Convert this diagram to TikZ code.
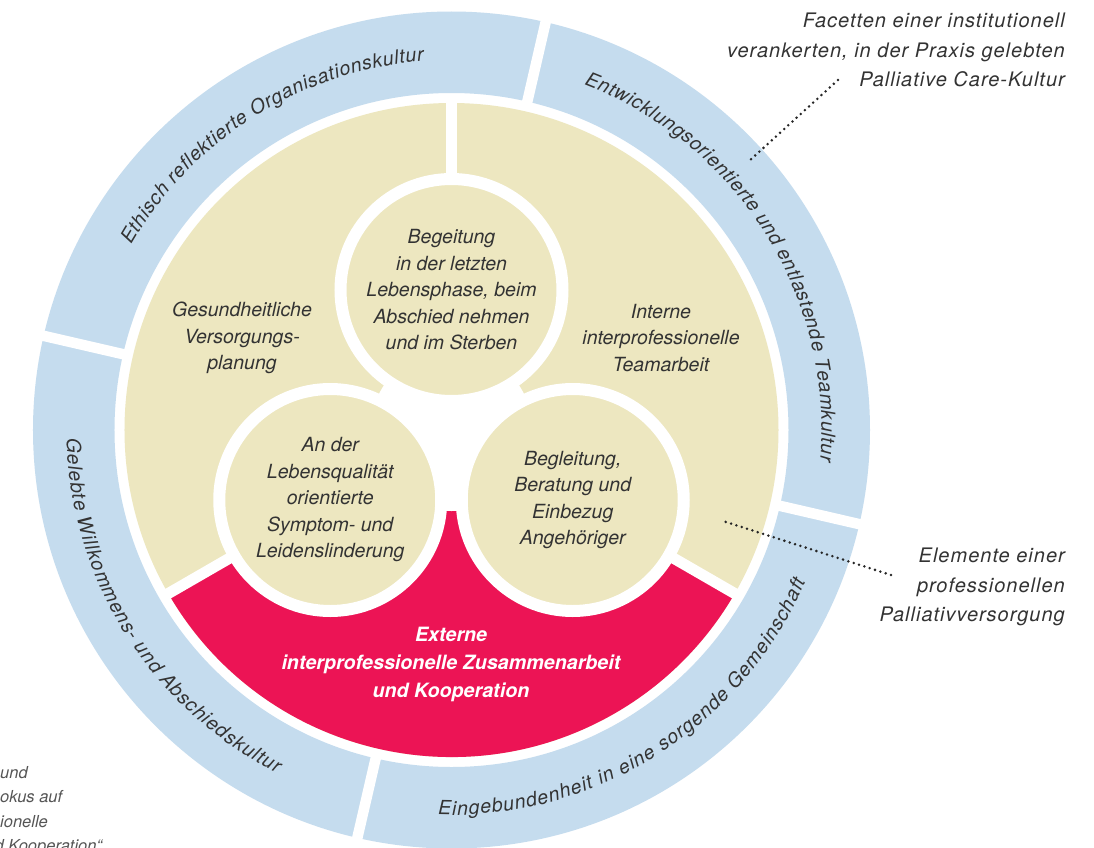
\documentclass[tikz,border=0pt]{standalone}
\usepackage{fontspec}
\setmainfont{TeX Gyre Heros}
\newfontfamily\annfont[LetterSpace=5]{TeX Gyre Heros}
\usetikzlibrary{decorations.text}
\definecolor{ringblue}{HTML}{C5DCEE}
\definecolor{elemyellow}{HTML}{EDE7C0}
\definecolor{extred}{HTML}{EC1455}
\definecolor{txtgray}{HTML}{333333}
\definecolor{fraggray}{HTML}{555555}
\begin{document}
\begin{tikzpicture}[x=1pt,y=1pt,
  innertxt/.style={align=center, inner sep=0pt, font=\fontsize{19.5}{26.5}\selectfont\itshape, text=txtgray},
  smallcircle/.style={circle, minimum size=222pt, inner sep=0pt, fill=elemyellow, draw=white, line width=12pt,
     align=center, font=\fontsize{19.5}{26.5}\selectfont\itshape, text=txtgray},
  redtxt/.style={align=center, inner sep=0pt, font=\fontsize{19.7}{28}\selectfont\bfseries\itshape, text=white},
  anntxt/.style={align=right, inner sep=0pt, font=\annfont\fontsize{20}{29.5}\selectfont\itshape, text=txtgray},
  fragtxt/.style={inner sep=0pt, font=\fontsize{16.5}{24.5}\selectfont\itshape, text=fraggray},
  leader/.style={draw=black!85, line width=2.8pt, line cap=round, dash pattern=on 0pt off 5.6pt},
  gapline/.style={draw=white, line width=10.5pt},
  ringtext/.style={decorate, decoration={text along path, text align=fit to path, text color=txtgray,
     text={|\fontsize{19.5}{23}\selectfont\itshape|#1}}}
]
\useasboundingbox (-451.5,-417) rectangle (642.5,430);
\clip (-451.5,-417) rectangle (642.5,430);
\fill[white] (-451.5,-417) rectangle (642.5,430);

% outer ring
\fill[ringblue, even odd rule] (0,0) circle[radius=418.5] (0,0) circle[radius=337];
\foreach \a in {77,167,257,347} \draw[gapline] (\a:330) -- (\a:430);

% inner disk
\fill[elemyellow] (0,0) circle[radius=327];
\fill[extred] (0,0) -- (210:327) arc[start angle=210, end angle=330, radius=327] -- cycle;
\foreach \a in {90,210,330} \draw[white, line width=11pt] (0,0) -- (\a:332);
\fill[white] (0,0) circle[radius=81];

% small circles
\node[smallcircle] (ctop) at (90:140) {Begeitung\\in der letzten\\Lebensphase, beim\\Abschied nehmen\\und im Sterben};
\node[smallcircle] (cleft) at (210:140) {An der\\Lebensqualität\\orientierte\\Symptom- und\\Leidenslinderung};
\node[smallcircle] (cright) at (330:140) {Begleitung,\\Beratung und\\Einbezug\\Angehöriger};

% sector texts
\node[innertxt] (gvp) at (-209.5,92) {Gesundheitliche\\Versorgungs-\\planung};
\node[innertxt] (iit) at (209.5,92) {Interne\\interprofessionelle\\Teamarbeit};
\node[redtxt] (ext) at (-0.5,-234) {Externe\\interprofessionelle Zusammenarbeit\\und Kooperation};

% ring texts
\path[ringtext={Ethisch reflektierte Organisationskultur}] (150:370) arc[start angle=150, end angle=94.3, radius=370];
\path[ringtext={Entwicklungsorientierte und entlastende Teamkultur}] (69:370) arc[start angle=69, end angle=-4.8, radius=370];
\path[ringtext={Gelebte Willkommens- und Abschiedskultur}] (181.2:385) arc[start angle=181.2, end angle=243, radius=385];
\path[ringtext={Eingebundenheit in eine sorgende Gemeinschaft}] (268:385) arc[start angle=268, end angle=336.8, radius=385];

% annotations
\node[anntxt, anchor=east] (facet) at (613.5,380) {Facetten einer institutionell\\verankerten, in der Praxis gelebten\\Palliative Care-Kultur};
\node[anntxt, anchor=east] (elem) at (613.5,-157) {Elemente einer\\professionellen\\Palliativversorgung};
\coordinate (facetend) at (386.5,350);
\coordinate (facetpt) at (296.5,268);
\coordinate (elemend) at (439.5,-145);
\coordinate (elempt) at (271.5,-91);
\draw[leader] (facetend) -- (facetpt);
\draw[leader] (elemend) -- (elempt);

% cut-off fragments at the lower left
\node[fragtxt, anchor=base west] (frag1) at (-451.5,-348) {und};
\node[fragtxt, anchor=base west] (frag2) at (-451.5,-372.5) {okus auf};
\node[fragtxt, anchor=base west] (frag3) at (-451.5,-397) {ionelle};
\node[fragtxt, anchor=base west] (frag4) at (-457,-421.5) {d Kooperation“};
\end{tikzpicture}
\end{document}
